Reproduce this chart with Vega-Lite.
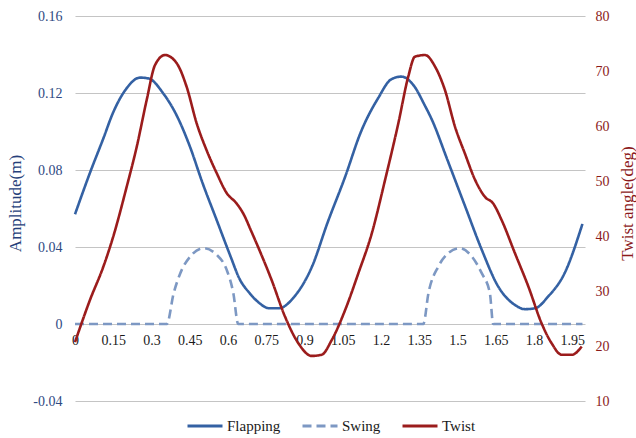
{
  "$schema": "https://vega.github.io/schema/vega-lite/v6.json",
  "width": 510,
  "height": 385,
  "autosize": {"type": "none"},
  "padding": {"left": 75, "top": 16, "right": 51, "bottom": 37},
  "background": "white",
  "config": {
    "view": {"stroke": null},
    "axis": {"domain": false, "ticks": false},
    "legend": {"labelFont": "Times New Roman, Liberation Serif, serif", "labelFontSize": 15, "labelColor": "#1a1a1a"}
  },
  "data": {"values": [
    {"t": 0.00, "series": "Flapping", "v": 0.057},
    {"t": 0.06, "series": "Flapping", "v": 0.079},
    {"t": 0.11, "series": "Flapping", "v": 0.096},
    {"t": 0.15, "series": "Flapping", "v": 0.110},
    {"t": 0.20, "series": "Flapping", "v": 0.122},
    {"t": 0.255, "series": "Flapping", "v": 0.128},
    {"t": 0.29, "series": "Flapping", "v": 0.1275},
    {"t": 0.345, "series": "Flapping", "v": 0.120},
    {"t": 0.40, "series": "Flapping", "v": 0.108},
    {"t": 0.45, "series": "Flapping", "v": 0.0924},
    {"t": 0.50, "series": "Flapping", "v": 0.0733},
    {"t": 0.555, "series": "Flapping", "v": 0.0542},
    {"t": 0.61, "series": "Flapping", "v": 0.0351},
    {"t": 0.645, "series": "Flapping", "v": 0.0235},
    {"t": 0.685, "series": "Flapping", "v": 0.0160},
    {"t": 0.72, "series": "Flapping", "v": 0.0112},
    {"t": 0.76, "series": "Flapping", "v": 0.0082},
    {"t": 0.80, "series": "Flapping", "v": 0.0082},
    {"t": 0.86, "series": "Flapping", "v": 0.0142},
    {"t": 0.93, "series": "Flapping", "v": 0.030},
    {"t": 0.99, "series": "Flapping", "v": 0.0525},
    {"t": 1.06, "series": "Flapping", "v": 0.0767},
    {"t": 1.12, "series": "Flapping", "v": 0.0994},
    {"t": 1.19, "series": "Flapping", "v": 0.1176},
    {"t": 1.24, "series": "Flapping", "v": 0.1271},
    {"t": 1.28, "series": "Flapping", "v": 0.1285},
    {"t": 1.33, "series": "Flapping", "v": 0.1236},
    {"t": 1.37, "series": "Flapping", "v": 0.114},
    {"t": 1.40, "series": "Flapping", "v": 0.106},
    {"t": 1.46, "series": "Flapping", "v": 0.0854},
    {"t": 1.53, "series": "Flapping", "v": 0.0611},
    {"t": 1.595, "series": "Flapping", "v": 0.0386},
    {"t": 1.66, "series": "Flapping", "v": 0.0194},
    {"t": 1.725, "series": "Flapping", "v": 0.0099},
    {"t": 1.765, "series": "Flapping", "v": 0.0077},
    {"t": 1.805, "series": "Flapping", "v": 0.0082},
    {"t": 1.855, "series": "Flapping", "v": 0.0142},
    {"t": 1.92, "series": "Flapping", "v": 0.0264},
    {"t": 1.99, "series": "Flapping", "v": 0.052},
    {"t": 0.00, "series": "Swing", "v": 0},
    {"t": 0.36, "series": "Swing", "v": 0},
    {"t": 0.387, "series": "Swing", "v": 0.016},
    {"t": 0.413, "series": "Swing", "v": 0.0264},
    {"t": 0.452, "series": "Swing", "v": 0.0351},
    {"t": 0.503, "series": "Swing", "v": 0.0394},
    {"t": 0.556, "series": "Swing", "v": 0.0359},
    {"t": 0.595, "series": "Swing", "v": 0.0281},
    {"t": 0.621, "series": "Swing", "v": 0.016},
    {"t": 0.64, "series": "Swing", "v": 0},
    {"t": 1.366, "series": "Swing", "v": 0},
    {"t": 1.386, "series": "Swing", "v": 0.016},
    {"t": 1.425, "series": "Swing", "v": 0.0299},
    {"t": 1.464, "series": "Swing", "v": 0.0368},
    {"t": 1.51, "series": "Swing", "v": 0.0394},
    {"t": 1.556, "series": "Swing", "v": 0.0351},
    {"t": 1.595, "series": "Swing", "v": 0.0264},
    {"t": 1.627, "series": "Swing", "v": 0.016},
    {"t": 1.64, "series": "Swing", "v": 0},
    {"t": 1.99, "series": "Swing", "v": 0},
    {"t": 0.00, "series": "Twist", "v": 20.7},
    {"t": 0.059, "series": "Twist", "v": 28.4},
    {"t": 0.111, "series": "Twist", "v": 34.4},
    {"t": 0.150, "series": "Twist", "v": 39.9},
    {"t": 0.203, "series": "Twist", "v": 49.0},
    {"t": 0.242, "series": "Twist", "v": 56.2},
    {"t": 0.281, "series": "Twist", "v": 64.7},
    {"t": 0.314, "series": "Twist", "v": 71.1},
    {"t": 0.353, "series": "Twist", "v": 72.9},
    {"t": 0.399, "series": "Twist", "v": 71.4},
    {"t": 0.438, "series": "Twist", "v": 67.1},
    {"t": 0.477, "series": "Twist", "v": 60.5},
    {"t": 0.516, "series": "Twist", "v": 55.6},
    {"t": 0.556, "series": "Twist", "v": 51.4},
    {"t": 0.595, "series": "Twist", "v": 47.8},
    {"t": 0.634, "series": "Twist", "v": 45.9},
    {"t": 0.662, "series": "Twist", "v": 43.9},
    {"t": 0.690, "series": "Twist", "v": 41.0},
    {"t": 0.719, "series": "Twist", "v": 37.9},
    {"t": 0.771, "series": "Twist", "v": 32.0},
    {"t": 0.824, "series": "Twist", "v": 25.3},
    {"t": 0.876, "series": "Twist", "v": 20.5},
    {"t": 0.928, "series": "Twist", "v": 18.2},
    {"t": 0.967, "series": "Twist", "v": 18.4},
    {"t": 1.007, "series": "Twist", "v": 21.1},
    {"t": 1.059, "series": "Twist", "v": 26.5},
    {"t": 1.111, "series": "Twist", "v": 33.2},
    {"t": 1.164, "series": "Twist", "v": 40.5},
    {"t": 1.216, "series": "Twist", "v": 50.2},
    {"t": 1.268, "series": "Twist", "v": 60.5},
    {"t": 1.307, "series": "Twist", "v": 69.0},
    {"t": 1.333, "series": "Twist", "v": 72.6},
    {"t": 1.373, "series": "Twist", "v": 72.9},
    {"t": 1.412, "series": "Twist", "v": 70.8},
    {"t": 1.451, "series": "Twist", "v": 66.5},
    {"t": 1.490, "series": "Twist", "v": 59.9},
    {"t": 1.529, "series": "Twist", "v": 55.0},
    {"t": 1.569, "series": "Twist", "v": 50.2},
    {"t": 1.608, "series": "Twist", "v": 47.1},
    {"t": 1.640, "series": "Twist", "v": 45.9},
    {"t": 1.673, "series": "Twist", "v": 42.9},
    {"t": 1.725, "series": "Twist", "v": 36.9},
    {"t": 1.778, "series": "Twist", "v": 30.8},
    {"t": 1.830, "series": "Twist", "v": 24.1},
    {"t": 1.869, "series": "Twist", "v": 20.5},
    {"t": 1.909, "series": "Twist", "v": 18.4},
    {"t": 1.948, "series": "Twist", "v": 18.4},
    {"t": 1.987, "series": "Twist", "v": 19.9}
  ]},
  "encoding": {
    "x": {
      "field": "t", "type": "quantitative",
      "scale": {"domain": [0, 2], "nice": false, "zero": false},
      "axis": {
        "title": null, "grid": false, "offset": -77,
        "values": [0, 0.15, 0.3, 0.45, 0.6, 0.75, 0.9, 1.05, 1.2, 1.35, 1.5, 1.65, 1.8, 1.95],
        "labelExpr": "'' + datum.value", "labelFont": "Liberation Serif", "labelFontSize": 14,
        "labelColor": "#1a1a1a", "labelPadding": 9, "labelFlush": false, "labelOverlap": false
      }
    },
    "color": {
      "field": "series", "type": "nominal",
      "scale": {"domain": ["Flapping", "Swing", "Twist"], "range": ["#3461a3", "#7d98c3", "#9b1c1c"]},
      "legend": {
        "title": null, "orient": "none", "legendX": 111, "legendY": 391, "direction": "horizontal",
        "symbolType": "stroke", "symbolSize": 1225, "symbolStrokeWidth": 3,
        "labelFont": "Times New Roman, Liberation Serif, serif", "labelFontSize": 15, "labelColor": "#1a1a1a",
        "labelOffset": 3, "columnPadding": 15
      }
    },
    "strokeDash": {
      "field": "series", "type": "nominal",
      "scale": {"domain": ["Flapping", "Swing", "Twist"], "range": [[1, 0], [9, 5], [1, 0]]},
      "legend": {
        "title": null, "orient": "none", "legendX": 111, "legendY": 391, "direction": "horizontal",
        "symbolType": "stroke", "symbolSize": 1225, "symbolStrokeWidth": 3,
        "labelFont": "Times New Roman, Liberation Serif, serif", "labelFontSize": 15, "labelColor": "#1a1a1a",
        "labelOffset": 3, "columnPadding": 15
      }
    }
  },
  "layer": [
    {
      "transform": [{"filter": "datum.series !== 'Twist'"}],
      "mark": {"type": "line", "strokeWidth": 2.6, "interpolate": "monotone"},
      "encoding": {
        "y": {
          "field": "v", "type": "quantitative",
          "scale": {"domain": [-0.04, 0.16], "nice": false, "zero": false},
          "axis": {
            "orient": "left", "values": [-0.04, 0, 0.04, 0.08, 0.12, 0.16],
            "labelExpr": "datum.value === 0 ? '0' : (datum.value < 0 ? '-' + format(-datum.value, '.2f') : format(datum.value, '.2f'))",
            "grid": true, "gridColor": "#c4c4c4", "gridWidth": 1.2,
            "labelFont": "Times New Roman, Liberation Serif, serif", "labelFontSize": 14, "labelColor": "#2f4a83", "labelPadding": 13,
            "title": "Amplitude(m)", "titleFont": "Liberation Serif", "titleFontSize": 17, "titleFontWeight": "normal",
            "titleColor": "#263f7a", "titleAngle": 270, "titleX": -60, "titleY": 187,
            "titleAlign": "center", "titleBaseline": "middle"
          }
        }
      }
    },
    {
      "transform": [{"filter": "datum.series === 'Twist'"}],
      "mark": {"type": "line", "strokeWidth": 2.6, "interpolate": "monotone"},
      "encoding": {
        "y": {
          "field": "v", "type": "quantitative",
          "scale": {"domain": [10, 80], "nice": false, "zero": false},
          "axis": {
            "orient": "right", "values": [10, 20, 30, 40, 50, 60, 70, 80],
            "grid": false,
            "labelFont": "Times New Roman, Liberation Serif, serif", "labelFontSize": 14, "labelColor": "#8b1a1a", "labelPadding": 10,
            "title": "Twist angle(deg)", "titleFont": "Liberation Serif", "titleFontSize": 17, "titleFontWeight": "normal",
            "titleColor": "#8b1a1a", "titleAngle": 270, "titleX": 42, "titleY": 187,
            "titleAlign": "center", "titleBaseline": "middle"
          }
        }
      }
    }
  ],
  "resolve": {"scale": {"y": "independent"}}
}
